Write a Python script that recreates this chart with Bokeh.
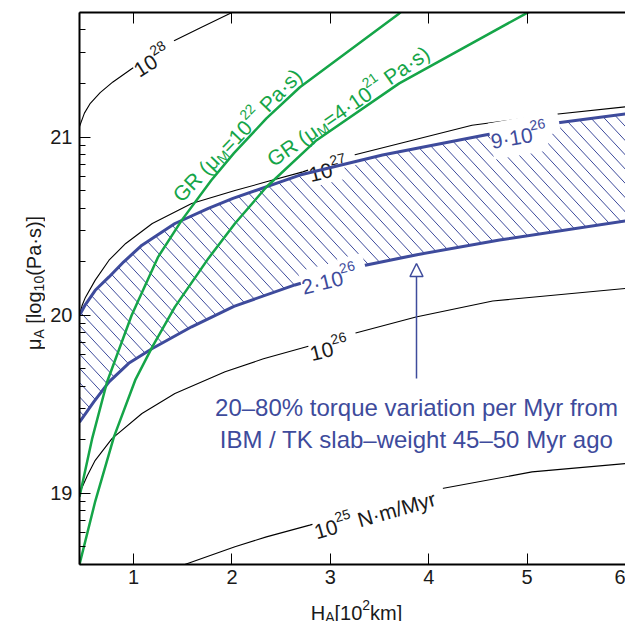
import math
import numpy as np
from bokeh.plotting import figure
from bokeh.layouts import column, row
from bokeh.models import (ColumnDataSource, FixedTicker, LinearAxis, Label,
                          Arrow, NormalHead, Range1d)
from bokeh.core.properties import value, field
from bokeh.embed import file_html
from bokeh.resources import INLINE

# ---------------- data ----------------
# torque contours (black), x = H_A [10^2 km], y = log10(mu_A)
c28_x = [0.45, 0.50, 0.56, 0.66, 0.79, 0.97, 1.37, 1.68, 2.00, 2.05]
c28_y = [21.06, 21.135, 21.19, 21.25, 21.31, 21.38, 21.53, 21.615, 21.70, 21.72]

c27_x = [0.45, 0.477, 0.51, 0.61, 0.75, 0.92, 1.19, 1.59, 2.03, 2.35, 2.72, 3.19, 4.44, 5.22, 6.0]
c27_y = [20.0, 20.056, 20.10, 20.197, 20.309, 20.403, 20.515, 20.627, 20.70, 20.749, 20.805, 20.893, 21.067, 21.124, 21.17]

c26_x = [0.45, 0.53, 0.61, 0.78, 1.085, 1.42, 1.93, 2.32, 2.74, 3.19, 3.87, 4.65, 6.0]
c26_y = [19.0, 19.10, 19.185, 19.307, 19.448, 19.56, 19.682, 19.755, 19.82, 19.89, 19.99, 20.08, 20.15]

c25_x = [1.52, 2.03, 2.35, 2.79, 4.04, 5.05, 6.0]
c25_y = [18.6, 18.70, 18.755, 18.821, 19.017, 19.12, 19.167]

# 20-80 % torque-variation band (blue)
band_hi_x = [0.45, 0.51, 0.61, 0.75, 0.90, 1.085, 1.42, 1.76, 2.01, 2.69, 3.53, 4.56, 5.20, 6.0]
band_hi_y = [20.0, 20.06, 20.14, 20.215, 20.30, 20.393, 20.515, 20.60, 20.656, 20.787, 20.90, 21.011, 21.073, 21.13]

band_lo_x = [0.45, 0.595, 0.75, 0.95, 1.19, 1.59, 2.02, 2.64, 3.28, 3.88, 4.72, 6.0]
band_lo_y = [19.40, 19.513, 19.626, 19.73, 19.813, 19.935, 20.05, 20.17, 20.272, 20.34, 20.422, 20.53]

# glacial rebound constraints (green)
gr22_x = [0.45, 0.58, 0.73, 0.98, 1.25, 1.49, 1.79, 2.02, 2.35, 2.69, 3.70, 3.75]
gr22_y = [18.98, 19.31, 19.625, 20.0, 20.328, 20.534, 20.758, 20.91, 21.105, 21.28, 21.695, 21.72]

gr4_x = [0.45, 0.61, 0.80, 1.02, 1.19, 1.42, 1.76, 2.03, 2.35, 2.86, 3.70, 5.0, 5.05]
gr4_y = [18.6, 18.955, 19.317, 19.64, 19.822, 20.047, 20.319, 20.515, 20.72, 20.983, 21.302, 21.698, 21.71]

x_ticks = [1, 2, 3, 4, 5, 6]
y_ticks = [19, 20, 21]

note_lines = ["20\u201380% torque variation per Myr from",
              "IBM / TK slab\u2013weight 45\u201350 Myr ago"]

# ---------------- layout / style ----------------
FONT = "Liberation Sans"
BLUE = "#3e4b9c"
GREEN = "#15a548"
INK = "#1a1a1a"

TOT_W, TOT_H = 625, 621
YT_W = 45                 # strip on the left holding the y-axis title
XT_H = 29                 # strip at the bottom holding the x-axis title
WC, HC = TOT_W - YT_W, TOT_H - XT_H
FRAME_TOP, FRAME_BOT = 12, 564
BL, BR, BT, BB = 79 - YT_W, 0, FRAME_TOP, HC - FRAME_BOT

X0, X1 = 0.45, 6.0
Y0, Y1 = 18.6, 21.7
FW = WC - BL - BR
FH = HC - BT - BB
SX = FW / (X1 - X0)
SY = FH / (Y1 - Y0)


def px2x(px):          # page px -> data x
    return X0 + (px - 79) / SX


def py2y(py):          # page px -> data y
    return Y1 - (py - BT) / SY


AW = {' ': 278, '\u00a0': 278, '(': 333, ')': 333, '/': 278, '=': 584, '[': 278, ']': 278,
      '\u00b7': 278, '\u2013': 556, '%': 889, 'A': 667, 'B': 667, 'G': 778,
      'H': 722, 'I': 278, 'K': 667, 'M': 833, 'N': 722, 'P': 667, 'R': 722,
      'T': 611, 'a': 556, 'e': 556, 'f': 278, 'g': 556, 'i': 222, 'k': 500,
      'l': 222, 'm': 833, 'n': 556, 'o': 556, 'p': 556, 'q': 556, 'r': 333,
      's': 500, 't': 278, 'u': 556, 'v': 500, 'w': 722, 'y': 500, '\u03bc': 576}


def tw(s, size):
    return sum(AW.get(c, 556) for c in s) * size / 1000.0


def layout_runs(cx, cy, ang, runs):
    """runs: (text, size_px, baseline shift px). cx, cy: px of visual centre (y down).
    Returns px of each run's baseline start."""
    a = math.radians(ang)
    ux, uy = math.cos(a), -math.sin(a)
    nx, ny = -math.sin(a), -math.cos(a)
    total = sum(tw(t, s) for t, s, d in runs)
    big = max(s for t, s, d in runs)
    bx = cx - ux * total / 2 - nx * 0.35 * big
    by = cy - uy * total / 2 - ny * 0.35 * big
    out = []
    adv = 0.0
    for t, s, d in runs:
        t = t.replace(" ", "\u00a0")
        out.append((bx + ux * adv + nx * d, by + uy * adv + ny * d, t, "%dpx" % s))
        adv += tw(t, s)
    return out


F, S = 21, 14
UP, DN = 9, -5

p = figure(width=WC, height=HC, x_range=Range1d(X0, X1), y_range=Range1d(Y0, Y1),
           output_backend="svg", toolbar_location=None, title=None,
           min_border_left=BL, min_border_right=BR, min_border_top=BT, min_border_bottom=BB)
p.outline_line_color = None
p.grid.visible = False
p.background_fill_color = "white"
p.border_fill_color = "white"

xa = p.xaxis[0]
xa.ticker = FixedTicker(ticks=x_ticks)
ya = p.yaxis[0]
minor = [n + math.log10(k) for n in (18, 19, 20, 21) for k in range(2, 10)]
ya.ticker = FixedTicker(ticks=y_ticks, minor_ticks=[m for m in minor if Y0 <= m <= Y1])
for ax in (xa, ya):
    ax.major_tick_in = 11
    ax.major_tick_out = 0
    ax.minor_tick_in = 6
    ax.minor_tick_out = 0
    ax.axis_line_width = 2
    ax.major_tick_line_width = 1
    ax.major_label_text_font = FONT
    ax.major_label_text_font_size = "20px"
    ax.major_label_text_color = INK
xa.major_label_standoff = 5
ya.major_label_standoff = 7

top = LinearAxis(ticker=FixedTicker(ticks=x_ticks), major_label_text_font_size="1px",
                 major_label_overrides={t: "" for t in x_ticks},
                 major_tick_in=11, major_tick_out=0, minor_tick_in=0, minor_tick_out=0,
                 axis_line_width=2, major_label_standoff=0)
p.add_layout(top, "above")

# hatching of the band: parallel "\" strokes at ~47 deg, 13.3 px apart, clipped to the band
HATCH_ANG, HATCH_GAP = 47.0, 13.3
xs_d = np.linspace(X0, X1, 3000)
hi_d = np.interp(xs_d, band_hi_x, band_hi_y)
lo_d = np.interp(xs_d, band_lo_x, band_lo_y)
xp = (xs_d - X0) * SX
tn = math.tan(math.radians(HATCH_ANG))
hx, hy = [], []
for c in np.arange(-FW * tn, FH, HATCH_GAP * tn):
    yl = Y1 - (xp * tn + c) / SY
    idx = np.where((yl <= hi_d) & (yl >= lo_d))[0]
    if len(idx) < 2:
        continue
    i0, i1 = idx[0], idx[-1]
    hx.append([xs_d[i0], xs_d[i1]])
    hy.append([yl[i0], yl[i1]])
p.multi_line(hx, hy, line_color=BLUE, line_width=1)

# black contours
for xs, ys in ((c28_x, c28_y), (c27_x, c27_y), (c26_x, c26_y), (c25_x, c25_y)):
    p.line(xs, ys, line_color="black", line_width=1.1)


def add_label(cx, cy, ang, runs, color, bg, pad=5):
    pts = layout_runs(cx, cy, ang, runs)
    src = ColumnDataSource(dict(x=[px2x(a[0]) for a in pts], y=[py2y(a[1]) for a in pts],
                                text=[a[2] for a in pts], size=[a[3] for a in pts]))
    common = dict(x="x", y="y", text="text", source=src, angle=math.radians(ang),
                  text_font=value(FONT), text_font_size=field("size"),
                  text_align="left", text_baseline="alphabetic")
    if bg:   # white knock-out behind the text, drawn first so it never hides other runs
        p.text(text_alpha=0, background_fill_color="white", padding=pad, **common)
    p.text(text_color=color, **common)


add_label(148, 55, 32, [("10", F, 0), ("28", S, UP)], INK, True)
add_label(326, 163, 14, [("10", F, 0), ("27", S, UP)], INK, True)
add_label(327, 342, 14, [("10", F, 0), ("26", S, UP)], INK, True)
add_label(372, 508, 16, [("10", F, 0), ("25", S, UP), (" N\u00b7m/Myr", F, 0)], INK, True)

# blue band edges
p.line(band_hi_x, band_hi_y, line_color=BLUE, line_width=3)
p.line(band_lo_x, band_lo_y, line_color=BLUE, line_width=3)
add_label(517, 129, 10, [("9\u00b710", F, 0), ("26", S, UP)], BLUE, True, pad=7)
add_label(327, 273, 14, [("2\u00b710", F, 0), ("26", S, UP)], BLUE, True)

# green GR curves
p.line(gr22_x, gr22_y, line_color=GREEN, line_width=2.5)
p.line(gr4_x, gr4_y, line_color=GREEN, line_width=2.5)
add_label(231, 130, 46, [("GR (\u03bc", F, 0), ("M", S, DN), ("=10", F, 0), ("22", S, UP),
                         (" Pa\u00b7s)", F, 0)], GREEN, False)
add_label(343, 100, 35, [("GR (\u03bc", F, 0), ("M", S, DN), ("=4\u00b710", F, 0), ("21", S, UP),
                         (" Pa\u00b7s)", F, 0)], GREEN, False)

# note + arrow
NOTE_X = px2x(416)
for i, line in enumerate(note_lines):
    p.add_layout(Label(x=NOTE_X, y=py2y(407 + 31.5 * i), text=line, text_align="center",
                       text_baseline="alphabetic", text_font=FONT, text_font_size="24px",
                       text_color=BLUE))
ARROW_X = px2x(416)
p.add_layout(Arrow(end=NormalHead(size=13, fill_color="white", line_color=BLUE, line_width=1.5),
                   x_start=ARROW_X, y_start=py2y(378), x_end=ARROW_X, y_end=py2y(263),
                   line_color=BLUE, line_width=1.5))


# axis titles: small text-only figures beside the plot (sub/superscripts stay real text)
def title_fig(w, h, y_lo, y_hi, cx, cy, ang, runs):
    """Text-only strip. The y range is given in 'h - page px' so that it matches
    whatever frame the layout assigns (frames in a row are aligned)."""
    f = figure(width=w, height=h, x_range=Range1d(0, w), y_range=Range1d(y_lo, y_hi),
               output_backend="svg", toolbar_location=None, title=None,
               min_border_left=0, min_border_right=0, min_border_top=0, min_border_bottom=0,
               x_axis_location=None, y_axis_location=None)
    f.grid.visible = False
    f.outline_line_color = None
    f.background_fill_color = "white"
    f.border_fill_color = "white"
    pts = layout_runs(cx, cy, ang, runs)
    src = ColumnDataSource(dict(x=[a[0] for a in pts], y=[h - a[1] for a in pts],
                                text=[a[2] for a in pts], size=[a[3] for a in pts]))
    f.text(x="x", y="y", text="text", source=src, angle=math.radians(ang),
           text_font=value(FONT), text_font_size=field("size"), text_color=INK,
           text_align="left", text_baseline="alphabetic")
    return f


# the y-title strip's frame is aligned with the main frame (page y 12..564)
yfig = title_fig(YT_W, HC, HC - FRAME_BOT, HC - FRAME_TOP, 26, 283, 90,
                 [("\u03bc", 20, 0), ("A", 14, -5), (" [log", 20, 0), ("10", 14, -5),
                  ("(Pa\u00b7s)]", 20, 0)])
xfig = title_fig(TOT_W, XT_H, 0, XT_H, 356, 605 - HC, 0,
                 [("H", 20, 0), ("A", 14, -4), ("[10", 20, 0), ("2", 14, 8), ("km]", 20, 0)])

root = column(row(yfig, p, spacing=0), xfig, spacing=0)
open("out.html", "w").write(file_html(root, INLINE))
